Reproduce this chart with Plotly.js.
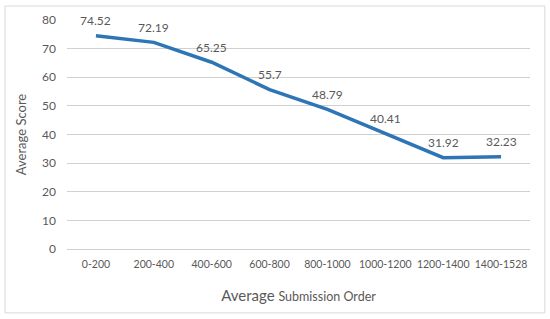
<!DOCTYPE html>
<html><head><meta charset="utf-8">
<script src="https://cdn.plot.ly/plotly-3.0.1.min.js"></script>
<style>body{margin:0;background:#fff}#c{width:550px;height:319px}</style>
</head><body><div id="c"></div>
<script>
const categories = ["0-200","200-400","400-600","600-800","800-1000","1000-1200","1200-1400","1400-1528"];
const scores = [74.52,72.19,65.25,55.7,48.79,40.41,31.92,32.23];
const labels = ["74.52","72.19","65.25","55.7","48.79","40.41","31.92","32.23"];
const yTicks = [0,10,20,30,40,50,60,70,80];

const fontFam = "Lato, 'Open Sans', sans-serif";
const grey = "#595959";

const trace = {
  x: categories, y: scores, type: "scatter", mode: "lines",
  line: {color: "#2E75B6", width: 3.5}, hoverinfo: "skip"
};

const annotations = categories.map((c, i) => ({
  x: c, y: scores[i], text: labels[i], showarrow: false,
  xref: "x", yref: "y", yanchor: "middle", yshift: 15,
  font: {family: fontFam, size: 12, color: grey}
}));

const layout = {
  width: 550, height: 319,
  margin: {l: 67, r: 20, t: 20, b: 70},
  paper_bgcolor: "#fff", plot_bgcolor: "#fff",
  showlegend: false,
  font: {family: fontFam, color: grey, size: 12},
  xaxis: {
    type: "category", range: [-0.5, 7.5], showgrid: false, zeroline: false, showline: false,
    ticks: "", tickangle: 0, tickfont: {size: 10.5, color: grey, family: fontFam},
    ticklabelstandoff: 7,
    title: {text: "Average <span style='font-size:12.5px'>Submission Order</span>", font: {size: 15, color: grey, family: fontFam}, standoff: 21}
  },
  yaxis: {
    range: [0, 80], tickvals: yTicks, showgrid: true, gridcolor: "#d0d0d0", gridwidth: 1,
    zeroline: true, zerolinecolor: "#d0d0d0", zerolinewidth: 1, showline: false, ticks: "",
    ticklabelstandoff: 10,
    tickfont: {size: 12, color: grey, family: fontFam},
    title: {text: "Average Score", font: {size: 13, color: grey, family: fontFam}, standoff: 12}
  },
  annotations: annotations,
  shapes: [{
    type: "rect", xref: "paper", yref: "paper",
    x0: -0.134, x1: 1.032, y0: -0.279, y1: 1.061,
    line: {color: "#d9d9d9", width: 1}, layer: "below"
  }]
};

Plotly.newPlot("c", [trace], layout, {displayModeBar: false, staticPlot: true});
</script></body></html>
